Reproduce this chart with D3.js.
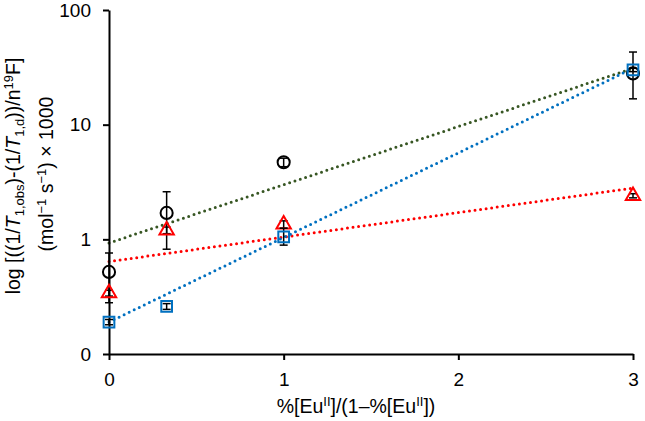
<!DOCTYPE html>
<html>
<head>
<meta charset="utf-8">
<script src="https://cdn.jsdelivr.net/npm/d3@7"></script>
<style>
  body { margin: 0; background: #fff; }
  svg { font-family: Arial, "Liberation Sans", sans-serif; }
</style>
</head>
<body>
<svg id="chart" width="645" height="421"></svg>
<script>
// x values: %[EuII]/(1-%[EuII])
var xVals = [0, 0.33, 1, 3];

// circles (black)
var circleVals = [0.52, 1.7, 4.7, 28];
var circleLow = [0.28, 0.82, 4.3, 16.8];
var circleHigh = [0.76, 2.6, 5.1, 43];

// triangles (red)
var triVals = [0.34, 1.2, 1.35, 2.4];
var triLow = [0.32, 1.12, 1.25, 2.3];
var triHigh = [0.36, 1.28, 1.45, 2.5];

// squares (blue)
var squareVals = [0.19, 0.26, 1.05, 30];
var squareLow = [0.18, 0.245, 0.89, 29];
var squareHigh = [0.2, 0.275, 1.25, 31];

// dotted exponential trend lines, value at x = 0 and x = 3
var trendX = [0, 3];
var greenTrend = [0.93, 31];
var redTrend = [0.64, 2.8];
var blueTrend = [0.19, 31];

var xTicks = [0, 1, 2, 3];
var yTicks = [0.1, 1, 10, 100];
var yTickLabels = ["0", "1", "10", "100"];

var svg = d3.select("#chart");

var x = d3.scaleLinear()
    .domain([0, 3])
    .range([109, 633]);

var y = d3.scaleLog()
    .domain([0.1, 100])
    .range([354, 10]);

// trend lines (drawn under markers)
var line = d3.line()
    .x(d => x(d[0]))
    .y(d => y(d[1]));

function trend(vals, color) {
    svg.append("path")
        .datum(trendX.map((v, i) => [v, vals[i]]))
        .attr("d", line)
        .attr("fill", "none")
        .attr("stroke", color)
        .attr("stroke-width", 3)
        .attr("stroke-linecap", "round")
        .attr("stroke-dasharray", "0 5.6");
}

trend(greenTrend, "#375623");
trend(redTrend, "#ff0000");
trend(blueTrend, "#0070c0");

// axes
svg.append("g")
    .attr("transform", `translate(${x(0)},0)`)
    .call(d3.axisLeft(y)
        .tickValues(yTicks)
        .tickFormat((d, i) => yTickLabels[i])
        .tickSize(6)
        .tickSizeOuter(0)
        .tickPadding(12));

svg.append("g")
    .attr("transform", `translate(0,${y(0.1)})`)
    .call(d3.axisBottom(x)
        .tickValues(xTicks)
        .tickFormat(d3.format("d"))
        .tickSize(6)
        .tickSizeOuter(0)
        .tickPadding(13));

svg.selectAll(".domain, .tick line")
    .attr("stroke", "#000")
    .attr("stroke-width", 2);

svg.selectAll(".tick text")
    .attr("font-size", 19)
    .attr("font-family", "Arial, 'Liberation Sans', sans-serif")
    .attr("fill", "#000");

// series
function errorBars(vals, lows, highs) {
    var g = svg.append("g")
        .attr("stroke", "#000")
        .attr("stroke-width", 1.5)
        .attr("fill", "none");
    xVals.forEach(function(xv, i) {
        var cx = x(xv);
        g.append("line")
            .attr("x1", cx).attr("x2", cx)
            .attr("y1", y(lows[i])).attr("y2", y(highs[i]));
        g.append("line")
            .attr("x1", cx - 4).attr("x2", cx + 4)
            .attr("y1", y(lows[i])).attr("y2", y(lows[i]));
        g.append("line")
            .attr("x1", cx - 4).attr("x2", cx + 4)
            .attr("y1", y(highs[i])).attr("y2", y(highs[i]));
    });
}

function markers(vals, shape, color, size) {
    svg.append("g")
        .selectAll("path")
        .data(vals)
        .enter()
        .append("path")
            .attr("transform", (d, i) => `translate(${x(xVals[i])},${y(d)})`)
            .attr("d", d3.symbol().type(shape).size(size))
            .attr("fill", "none")
            .attr("stroke", color)
            .attr("stroke-width", 2);
}

errorBars(circleVals, circleLow, circleHigh);
markers(circleVals, d3.symbolCircle, "#000", 115);

errorBars(triVals, triLow, triHigh);
markers(triVals, d3.symbolTriangle, "#ff0000", 90);

errorBars(squareVals, squareLow, squareHigh);
markers(squareVals, d3.symbolSquare, "#0070c0", 115);

// axis titles
var xt = svg.append("text")
    .attr("x", 356)
    .attr("y", 413)
    .attr("text-anchor", "middle")
    .attr("font-size", 19.5)
    .attr("fill", "#000");
xt.append("tspan").text("%[Eu");
xt.append("tspan").attr("font-size", 13).attr("dy", -7).text("II");
xt.append("tspan").attr("dy", 7).text("]/(1\u2013%[Eu");
xt.append("tspan").attr("font-size", 13).attr("dy", -7).text("II");
xt.append("tspan").attr("dy", 7).text("])");

var yt1 = svg.append("text")
    .attr("transform", "translate(20,176) rotate(-90)")
    .attr("text-anchor", "middle")
    .attr("font-size", 19.5)
    .attr("fill", "#000");
yt1.append("tspan").text("log [((1/");
yt1.append("tspan").attr("font-style", "italic").text("T");
yt1.append("tspan").attr("font-size", 13).attr("dy", 4).text("1,obs");
yt1.append("tspan").attr("dy", -4).text(")-(1/");
yt1.append("tspan").attr("font-style", "italic").text("T");
yt1.append("tspan").attr("font-size", 13).attr("dy", 4).text("1,d");
yt1.append("tspan").attr("dy", -4).text("))/n");
yt1.append("tspan").attr("font-size", 13).attr("dy", -7).text("19");
yt1.append("tspan").attr("dy", 7).text("F]");

var yt2 = svg.append("text")
    .attr("transform", "translate(53,174) rotate(-90)")
    .attr("text-anchor", "middle")
    .attr("font-size", 19.5)
    .attr("fill", "#000");
yt2.append("tspan").text("(mol");
yt2.append("tspan").attr("font-size", 13).attr("dy", -7).text("\u22121");
yt2.append("tspan").attr("dy", 7).text(" s");
yt2.append("tspan").attr("font-size", 13).attr("dy", -7).text("\u22121");
yt2.append("tspan").attr("dy", 7).text(") \u00d7 1000");
</script>
</body>
</html>
